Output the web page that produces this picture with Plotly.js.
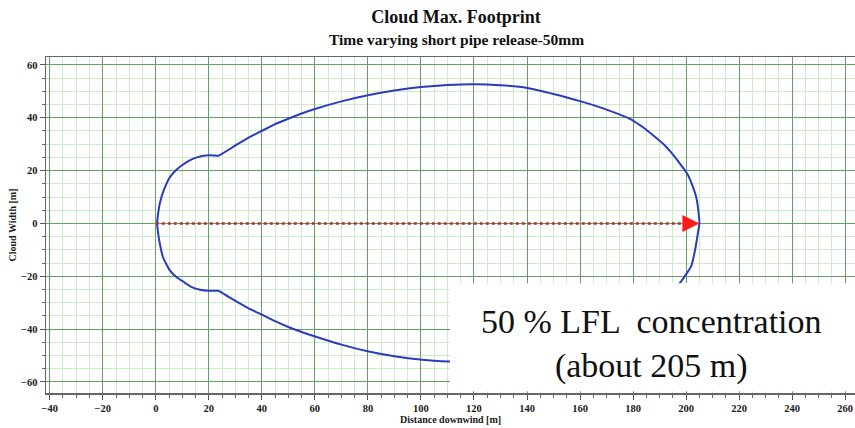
<!DOCTYPE html>
<html>
<head>
<meta charset="utf-8">
<script src="https://cdn.plot.ly/plotly-3.0.1.min.js"></script>
<style>html,body{margin:0;padding:0;background:#fff;}#chart{width:855px;height:428px;}</style>
</head>
<body>
<div id="chart"></div>
<script>
// Cloud footprint outline, upper half (distance downwind [m], cloud width [m])
var upperX = [0.5, 0.8, 1.5, 3, 5.3, 8, 10.3, 13, 15.5, 18, 20, 22, 23.6, 27, 30.5, 35, 40, 45, 50.7, 55, 60, 70, 80, 90, 100, 110, 120, 130, 140, 150, 160, 170, 179, 184, 188, 192, 195.6, 198.5, 200.6, 202.5, 203.8, 204.6, 205];
var upperY = [0, 3, 7.5, 12.5, 17.5, 20.5, 22.3, 24, 25, 25.6, 25.8, 25.7, 25.6, 27.6, 29.8, 32.5, 35, 37.6, 39.9, 41.6, 43.3, 46.2, 48.5, 50.3, 51.6, 52.4, 52.7, 52.3, 51.3, 49, 46.3, 43.1, 39.5, 36.2, 33, 29.5, 25.4, 21.5, 18.5, 14, 10, 5, 0];
// lower half
var lowerX = [0.5, 0.8, 1.5, 2.8, 5.3, 8, 10.3, 13, 16.6, 20, 23.6, 27, 30.5, 35, 40.2, 45, 50, 55, 60.1, 70, 80.3, 90, 100.5, 110.5, 120, 130, 140, 150, 160, 170, 179, 188, 192, 195.6, 198.1, 200.2, 201.9, 203.4, 204.4, 205];
var lowerY = [0, -3, -7.5, -13, -17.8, -20.5, -22, -23.8, -25.1, -25.5, -25.5, -27.5, -29.6, -32.2, -34.6, -37, -39.2, -41.1, -42.8, -45.9, -48.5, -50.3, -51.6, -52.3, -52.6, -52.2, -51.2, -48.9, -46.2, -43, -39.4, -33, -29.5, -25.5, -22, -19, -16.3, -10, -4, 0];
// arrow marking the 50 % LFL distance
var arrowShaftX = [0, 199];
var arrowShaftY = [0, 0];
var arrowTipX = 205;
var arrowTipY = 0;

var titleText = 'Cloud Max. Footprint';
var subtitleText = 'Time varying short pipe release-50mm';
var xTitle = 'Distance downwind [m]';
var yTitle = 'Cloud Width [m]';
var boxLines = ['50 % LFL  concentration', '(about 205 m)'];

var outlineX = upperX.slice().reverse().concat(lowerX.slice(1));
var outlineY = upperY.slice().reverse().concat(lowerY.slice(1));

var serif = 'Liberation Serif, Times New Roman, serif';
var tickFont = {family: serif, size: 10.5, color: '#1a1a1a', weight: 'bold'};

var traces = [
  {x: outlineX, y: outlineY, type: 'scatter', mode: 'lines',
   line: {color: '#2b3bbd', width: 2, shape: 'spline', smoothing: 0.4}, hoverinfo: 'skip'},
  {x: arrowShaftX, y: arrowShaftY, type: 'scatter', mode: 'lines',
   line: {color: '#a8322a', width: 2.5, dash: 'dot'}, hoverinfo: 'skip'}
];

var axisCommon = {
  showline: true, linecolor: '#666', linewidth: 1.5, mirror: true,
  ticks: 'outside', ticklen: 5, tickcolor: '#555', tickwidth: 1,
  showgrid: true, gridcolor: '#64a064', gridwidth: 1,
  zeroline: false, tickfont: tickFont, automargin: false,
  minor: {dtick: 5, showgrid: true, gridcolor: '#cdeacd', gridwidth: 1, ticks: 'outside', ticklen: 3, tickcolor: '#666'}
};

var layout = {
  width: 855, height: 428,
  margin: {l: 46, r: 0, t: 57, b: 35},
  paper_bgcolor: '#ffffff', plot_bgcolor: '#ffffff',
  showlegend: false,
  title: {
    text: titleText, x: 456 / 855, xanchor: 'center', xref: 'container',
    y: 1 - 17 / 428, yref: 'container', yanchor: 'middle',
    font: {family: serif, size: 18, color: '#111', weight: 'bold'}
  },
  xaxis: Object.assign({}, axisCommon, {
    range: [-41.4, 263.7], dtick: 20, tick0: 0,
    title: {text: xTitle, font: {family: serif, size: 10, color: '#1a1a1a', weight: 'bold'}, standoff: 2}
  }),
  yaxis: Object.assign({}, axisCommon, {
    range: [-64.2, 63], dtick: 20, tick0: 0,
    title: {text: yTitle, font: {family: serif, size: 10, color: '#1a1a1a', weight: 'bold'}, standoff: 2}
  }),
  shapes: [
    {type: 'rect', xref: 'paper', yref: 'paper', x0: 0.4994, x1: 1.01, y0: 0.005, y1: 0.327,
     fillcolor: '#ffffff', line: {width: 0}, layer: 'above'}
  ],
  annotations: [
    {x: (456 - 46) / 809, y: 1 + (57 - 40) / 336, xref: 'paper', yref: 'paper', xanchor: 'center', yanchor: 'middle',
     text: subtitleText, showarrow: false, font: {family: serif, size: 15.5, color: '#111', weight: 'bold'}},
    {x: arrowTipX, y: arrowTipY, ax: arrowTipX - 6, ay: arrowTipY, xref: 'x', yref: 'y', axref: 'x', ayref: 'y',
     text: '', showarrow: true, arrowhead: 2, arrowsize: 1.7, arrowwidth: 2, arrowcolor: '#ff1a1a'},
    {x: 0.748, y: 0.146, xref: 'paper', yref: 'paper', xanchor: 'center', yanchor: 'middle',
     text: boxLines.join('<br>'), showarrow: false, align: 'center',
     font: {family: serif, size: 34, color: '#111'}}
  ]
};

Plotly.newPlot('chart', traces, layout, {staticPlot: true, displayModeBar: false});
</script>
</body>
</html>
